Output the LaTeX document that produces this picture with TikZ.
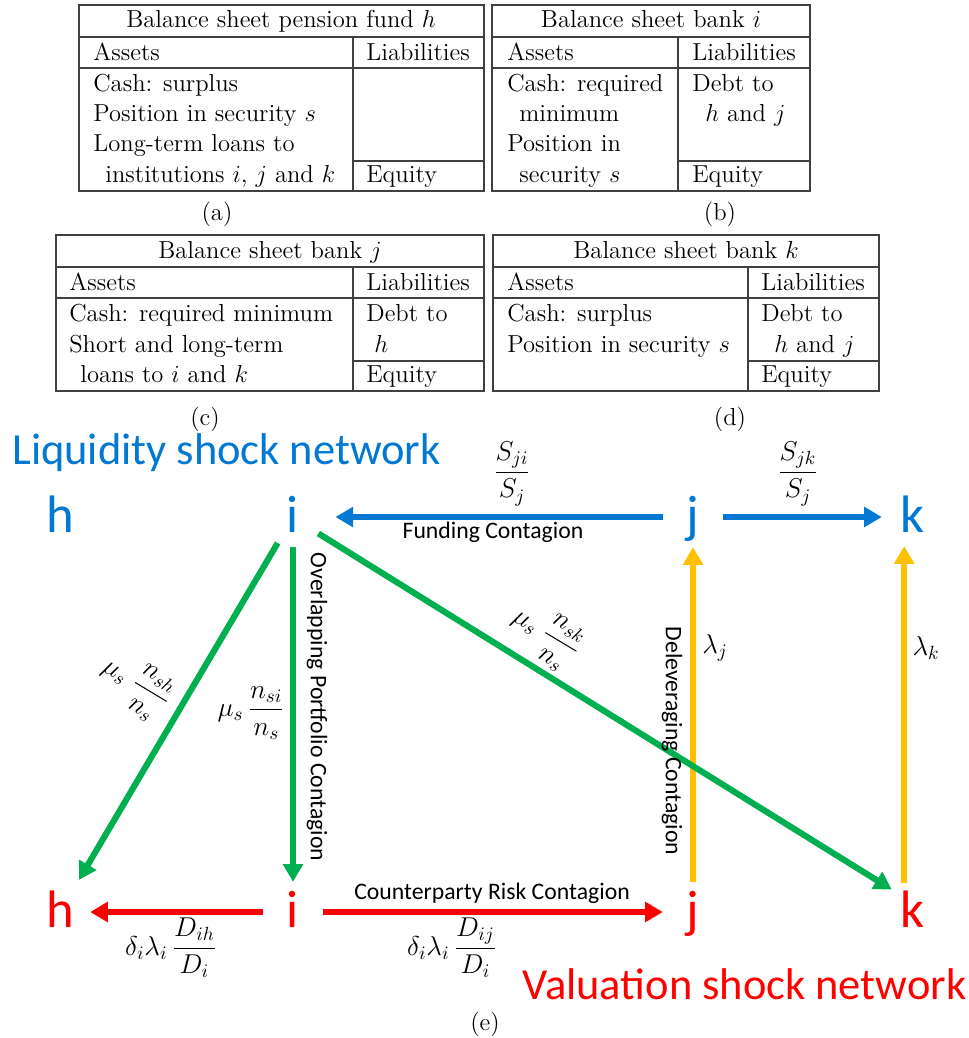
\RequirePackage{fix-cm}
\documentclass[tikz,border=0pt]{standalone}
\usepackage{amsmath}
\usepackage{fontspec}
\newfontfamily\calibri{Carlito}
\usetikzlibrary{arrows.meta}
\definecolor{liqblue}{RGB}{0,120,212}
\definecolor{valred}{RGB}{255,0,0}
\definecolor{olpgreen}{RGB}{0,176,80}
\definecolor{dlvyellow}{RGB}{255,192,0}
\tikzset{
  tabfont/.style={font=\fontsize{14}{17}\selectfont, inner sep=0pt},
  cell/.style={tabfont, anchor=base west},
  tabhead/.style={tabfont, anchor=base},
  tabrule/.style={line width=0.7pt, black!75},
  inst/.style={circle, minimum size=34pt, inner sep=0pt, font=\calibri\fontsize{30}{30}\selectfont, text height=21pt, text depth=3.5pt},
  nettitle/.style={font=\calibri\fontsize{25.3}{27}\selectfont, anchor=base west, inner sep=0pt},
  lbl/.style={font=\calibri\fontsize{13.5}{15}\selectfont, inner sep=0pt},
  mlbl/.style={font=\fontsize{15.5}{18}\selectfont, inner sep=0pt},
  shock/.style={line width=3.5pt, -{Triangle[length=10pt,width=11pt]}},
}
\begin{document}
\begin{tikzpicture}[x=0.02cm, y=-0.02cm]
\useasboundingbox (0,0) rectangle (969,1038);
% (a) pension fund h
\draw[tabrule] (79,5) rectangle (484,191);
\draw[tabrule] (79,37) -- (484,37) (79,68) -- (484,68) (353,37) -- (353,191) (353,161) -- (484,161);
\node[tabhead] (aT) at (281,27) {Balance sheet pension fund $h$};
\node[cell] (aA) at (93,60) {Assets};
\node[cell] (aL) at (366,60) {Liabilities};
\node[cell] (a1) at (93,91) {Cash: surplus};
\node[cell] (a2) at (93,121) {Position in security $s$};
\node[cell] (a3) at (93,151) {Long-term loans to};
\node[cell] (a4) at (105,182) {institutions $i$, $j$ and $k$};
\node[cell] (aE) at (366,182) {Equity};
\node[tabhead] (aC) at (217,220) {(a)};
% (b) bank i
\draw[tabrule] (492,5) rectangle (810,191);
\draw[tabrule] (492,37) -- (810,37) (492,68) -- (810,68) (678,37) -- (678,191) (678,161) -- (810,161);
\node[tabhead] (bT) at (651,27) {Balance sheet bank $i$};
\node[cell] (bA) at (507,60) {Assets};
\node[cell] (bL) at (692,60) {Liabilities};
\node[cell] (b1) at (507,91) {Cash: required};
\node[cell] (b2) at (519,121) {minimum};
\node[cell] (b3) at (507,151) {Position in};
\node[cell] (b4) at (519,182) {security $s$};
\node[cell] (bD1) at (692,91) {Debt to};
\node[cell] (bD2) at (705,121) {$h$ and $j$};
\node[cell] (bE) at (692,182) {Equity};
\node[tabhead] (bC) at (720,220) {(b)};
% (c) bank j
\draw[tabrule] (56,235) rectangle (484,391);
\draw[tabrule] (56,267) -- (484,267) (56,298) -- (484,298) (353,267) -- (353,391) (353,361) -- (484,361);
\node[tabhead] (cT) at (270,258) {Balance sheet bank $j$};
\node[cell] (cA) at (69,290) {Assets};
\node[cell] (cL) at (366,290) {Liabilities};
\node[cell] (c1) at (69,321) {Cash: required minimum};
\node[cell] (c2) at (69,352) {Short and long-term};
\node[cell] (c3) at (80,382) {loans to $i$ and $k$};
\node[cell] (cD1) at (366,321) {Debt to};
\node[cell] (cD2) at (374,352) {$h$};
\node[cell] (cE) at (366,382) {Equity};
\node[tabhead] (cC) at (205,425) {(c)};
% (d) bank k
\draw[tabrule] (493,235) rectangle (879,391);
\draw[tabrule] (493,267) -- (879,267) (493,298) -- (879,298) (748,267) -- (748,391) (748,361) -- (879,361);
\node[tabhead] (dT) at (686,258) {Balance sheet bank $k$};
\node[cell] (dA) at (507,290) {Assets};
\node[cell] (dL) at (761,290) {Liabilities};
\node[cell] (d1) at (507,321) {Cash: surplus};
\node[cell] (d2) at (507,352) {Position in security $s$};
\node[cell] (dD1) at (761,321) {Debt to};
\node[cell] (dD2) at (774,352) {$h$ and $j$};
\node[cell] (dE) at (761,382) {Equity};
\node[tabhead] (dC) at (730,425) {(d)};
% (e) the two networks
\node[nettitle, liqblue] (liq) at (12,464) {Liquidity shock network};
\node[nettitle, valred] (val) at (522,999) {Valuation shock network};
\node[inst, liqblue] (bh) at (60,517) {h};
\node[inst, liqblue] (bi) at (293,517) {i};
\node[inst, liqblue] (bj) at (693,517) {j};
\node[inst, liqblue] (bk) at (912,517) {k};
\node[inst, valred] (rh) at (60,912) {h};
\node[inst, valred] (ri) at (293,912) {i};
\node[inst, valred] (rj) at (693,912) {j};
\node[inst, valred] (rk) at (912,912) {k};
\draw[shock, liqblue, shorten >=7pt] (bj) -- (bi);
\draw[shock, liqblue] (bj) -- (bk);
\draw[shock, dlvyellow] (rj) -- (bj);
\draw[shock, dlvyellow] (rk.105) -- (bk.-105);
\draw[shock, olpgreen, shorten >=4pt] (bi) -- (rh);
\draw[shock, olpgreen] (bi) -- (ri);
\draw[shock, olpgreen] (bi.-33) -- (rk.132);
\draw[shock, valred] (ri) -- (rh);
\draw[shock, valred] (ri) -- (rj);
\node[mlbl] (sji) at (512,474) {$\dfrac{S_{ji}}{S_j}$};
\node[mlbl] (sjk) at (798,474) {$\dfrac{S_{jk}}{S_j}$};
\node[lbl] (fund) at (493,532) {Funding Contagion};
\node[mlbl, rotate=-31] (nsh) at (135,686) {$\mu_s\;\dfrac{n_{sh}}{n_s}$};
\node[mlbl] (nsi) at (251,713) {$\mu_s\,\dfrac{n_{si}}{n_s}$};
\node[lbl, rotate=-90] (olp) at (317,707) {Overlapping Portfolio Contagion};
\node[mlbl, rotate=-31] (nsk) at (545,636) {$\mu_s\;\dfrac{n_{sk}}{n_s}$};
\node[lbl, rotate=-90] (dlv) at (672,741) {Deleveraging Contagion};
\node[mlbl] (lj) at (715,648) {$\lambda_j$};
\node[mlbl] (lk) at (926,648) {$\lambda_k$};
\node[lbl, anchor=base] (cpr) at (492,899) {Counterparty Risk Contagion};
\node[mlbl] (dih) at (171,948) {$\delta_i\lambda_i\,\dfrac{D_{ih}}{D_i}$};
\node[mlbl] (dij) at (452,948) {$\delta_i\lambda_i\,\dfrac{D_{ij}}{D_i}$};
\node[tabhead] (eC) at (485,1030) {(e)};
\end{tikzpicture}
\end{document}
